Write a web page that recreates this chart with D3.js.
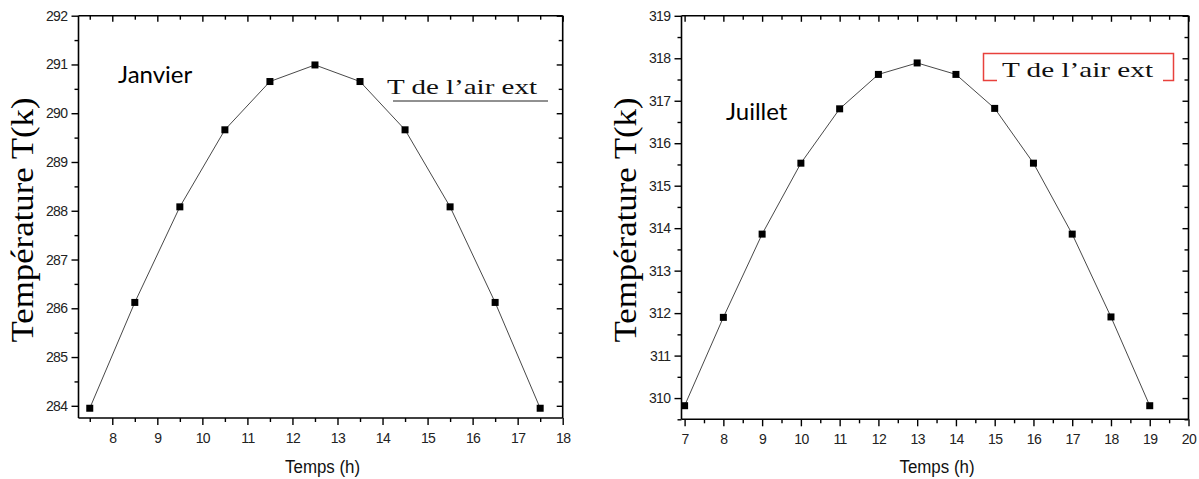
<!DOCTYPE html>
<html>
<head>
<meta charset="utf-8">
<script src="https://cdn.jsdelivr.net/npm/d3@7"></script>
<style>
  html, body { margin: 0; padding: 0; background: #fff; }
  svg { display: block; }
  .tick text { font-family: "Liberation Sans", Arial, sans-serif; font-size: 14px; fill: #222; letter-spacing: -0.6px; }
  .domain, .tick line { stroke: #000; }
</style>
</head>
<body>
<svg id="chart" width="1199" height="479"></svg>
<script>
// January: hourly outside air temperature
const janHours = [7.5, 8.5, 9.5, 10.5, 11.5, 12.5, 13.5, 14.5, 15.5, 16.5, 17.5];
const janTemps = [283.95, 286.12, 288.08, 289.66, 290.65, 290.99, 290.65, 289.66, 288.08, 286.12, 283.95];
const janXTicks = [8, 9, 10, 11, 12, 13, 14, 15, 16, 17, 18];
const janYTicks = [284, 285, 286, 287, 288, 289, 290, 291, 292];

// July: hourly outside air temperature
const julHours = [7, 8, 9, 10, 11, 12, 13, 14, 15, 16, 17, 18, 19];
const julTemps = [309.82, 311.9, 313.86, 315.53, 316.81, 317.62, 317.89, 317.62, 316.82, 315.53, 313.86, 311.91, 309.82];
const julXTicks = [7, 8, 9, 10, 11, 12, 13, 14, 15, 16, 17, 18, 19, 20];
const julYTicks = [310, 311, 312, 313, 314, 315, 316, 317, 318, 319];

const yTitle = "Température T(k)";
const xTitle = "Temps (h)";
const legendText = "T de l\u2019air ext";

const SERIF = "'Liberation Serif', 'Times New Roman', Times, serif";
const SANS = "'Liberation Sans', Arial, sans-serif";

const svg = d3.select("#chart");

function panel(cfg) {
  const x = d3.scaleLinear().domain(cfg.xDomain).range(cfg.xRange);
  const y = d3.scaleLinear().domain(cfg.yDomain).range(cfg.yRange);
  const g = svg.append("g");
  const [x0, x1] = cfg.xRange;
  const [y0, y1] = cfg.yRange; // y0 bottom, y1 top

  const xMinor = d3.range(Math.ceil(cfg.xDomain[0] * 2) / 2, cfg.xDomain[1] + 0.001, 0.5)
    .filter(v => !cfg.xTicks.includes(v));
  const yMinor = d3.range(Math.ceil(cfg.yDomain[0] * 2) / 2, cfg.yDomain[1] + 0.001, 0.5)
    .filter(v => !cfg.yTicks.includes(v));

  // bottom axis (ticks outward, labelled)
  g.append("g").attr("transform", `translate(0,${y0})`)
    .call(d3.axisBottom(x).tickValues(cfg.xTicks).tickSize(7).tickPadding(8).tickFormat(d3.format("d")))
    .call(a => a.select(".domain").attr("d", `M${x0},0H${x1}`).attr("stroke-width", 1.6));
  g.append("g").attr("transform", `translate(0,${y0})`)
    .call(d3.axisBottom(x).tickValues(xMinor).tickSize(4).tickFormat(""))
    .call(a => a.select(".domain").remove());

  // top axis (mirror ticks pointing inward)
  g.append("g").attr("transform", `translate(0,${y1})`)
    .call(d3.axisBottom(x).tickValues(cfg.xTicks).tickSize(6).tickFormat(""))
    .call(a => a.select(".domain").attr("d", `M${x0},0H${x1}`).attr("stroke-width", 1.6));
  g.append("g").attr("transform", `translate(0,${y1})`)
    .call(d3.axisBottom(x).tickValues(xMinor).tickSize(4).tickFormat(""))
    .call(a => a.select(".domain").remove());

  // left axis (ticks outward, labelled)
  g.append("g").attr("transform", `translate(${x0},0)`)
    .call(d3.axisLeft(y).tickValues(cfg.yTicks).tickSize(7).tickPadding(4).tickFormat(d3.format("d")))
    .call(a => a.select(".domain").attr("d", `M0,${y0}V${y1}`).attr("stroke-width", 1.6));
  g.append("g").attr("transform", `translate(${x0},0)`)
    .call(d3.axisLeft(y).tickValues(yMinor).tickSize(4).tickFormat(""))
    .call(a => a.select(".domain").remove());

  // right axis (mirror ticks pointing inward)
  g.append("g").attr("transform", `translate(${x1},0)`)
    .call(d3.axisLeft(y).tickValues(cfg.yTicks).tickSize(6).tickFormat(""))
    .call(a => a.select(".domain").attr("d", `M0,${y0}V${y1}`).attr("stroke-width", 1.6));
  g.append("g").attr("transform", `translate(${x1},0)`)
    .call(d3.axisLeft(y).tickValues(yMinor).tickSize(4).tickFormat(""))
    .call(a => a.select(".domain").remove());

  g.selectAll(".tick line").attr("stroke-width", 1.4);

  // data line and square markers
  const pts = cfg.hours.map((h, i) => [h, cfg.temps[i]]);
  g.append("path").datum(pts)
    .attr("fill", "none").attr("stroke", "#333").attr("stroke-width", 0.9)
    .attr("d", d3.line().x(d => x(d[0])).y(d => y(d[1])));
  g.selectAll("rect.mk").data(pts).enter().append("rect")
    .attr("class", "mk")
    .attr("x", d => x(d[0]) - 3.5).attr("y", d => y(d[1]) - 3.5)
    .attr("width", 7).attr("height", 7).attr("fill", "#000");

  // axis titles
  g.append("text")
    .attr("x", (x0 + x1) / 2 + 2).attr("y", 473)
    .attr("text-anchor", "middle")
    .attr("font-family", SANS)
    .attr("font-size", 18).attr("fill", "#111")
    .attr("textLength", 75).attr("lengthAdjust", "spacingAndGlyphs")
    .text(xTitle);
  g.append("text")
    .attr("transform", `translate(${cfg.yTitleX},220) rotate(-90)`)
    .attr("text-anchor", "middle")
    .attr("font-family", SERIF)
    .attr("font-size", 32).attr("fill", "#000")
    .attr("textLength", 245).attr("lengthAdjust", "spacingAndGlyphs")
    .text(yTitle);

  // month label
  g.append("text")
    .attr("x", cfg.monthPos[0]).attr("y", cfg.monthPos[1])
    .attr("font-family", "Lato, 'Open Sans', sans-serif")
    .attr("font-size", 24).attr("fill", "#000")
    .text(cfg.month);

  return g;
}

const gJan = panel({
  hours: janHours, temps: janTemps,
  xTicks: janXTicks, yTicks: janYTicks,
  xDomain: [7.25, 18], xRange: [78.5, 562.7],
  yDomain: [283.75, 292], yRange: [418, 15.7],
  yTitleX: 33, month: "Janvier", monthPos: [118, 83]
});

const gJul = panel({
  hours: julHours, temps: julTemps,
  xTicks: julXTicks, yTicks: julYTicks,
  xDomain: [6.92, 20], xRange: [681.5, 1188.5],
  yDomain: [309.5, 319], yRange: [419.3, 15.8],
  yTitleX: 636, month: "Juillet", monthPos: [726, 120]
});

// legend, January: text with underline
gJan.append("text")
  .attr("x", 387).attr("y", 94)
  .attr("font-family", SERIF)
  .attr("font-size", 22).attr("fill", "#111")
  .attr("textLength", 150).attr("lengthAdjust", "spacingAndGlyphs")
  .text(legendText);
gJan.append("line")
  .attr("x1", 393).attr("x2", 548).attr("y1", 101).attr("y2", 101)
  .attr("stroke", "#222").attr("stroke-width", 1);

// legend, July: text in an open-bottom red frame
gJul.append("path")
  .attr("d", "M997,80.5H983.5V53.5H1173.5V80.5H1163")
  .attr("fill", "none").attr("stroke", "#e8413c").attr("stroke-width", 1.5);
gJul.append("text")
  .attr("x", 1002).attr("y", 77)
  .attr("font-family", SERIF)
  .attr("font-size", 22).attr("fill", "#111")
  .attr("textLength", 151).attr("lengthAdjust", "spacingAndGlyphs")
  .text(legendText);
</script>
</body>
</html>
